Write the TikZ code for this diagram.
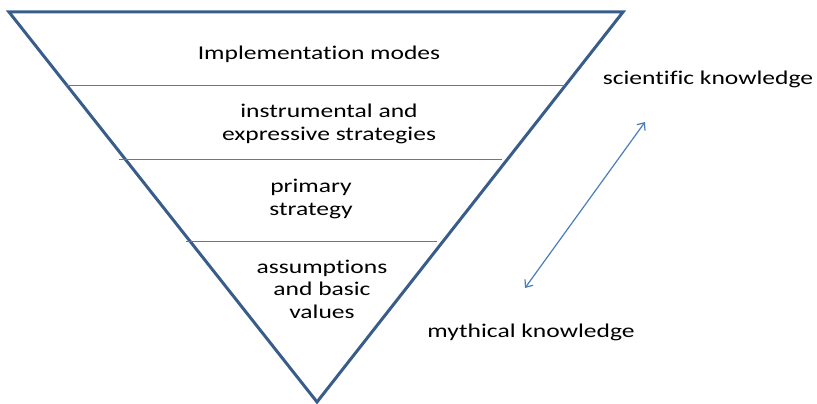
\documentclass[tikz,border=0pt]{standalone}
\usepackage{fontspec}
\setmainfont{Carlito}[Ligatures=NoCommon, FakeStretch=1.31]
\usetikzlibrary{arrows.meta}
\definecolor{tri}{HTML}{385D8A}
\definecolor{thin}{HTML}{4A7EBB}
\tikzset{
  lbl/.style={font=\fontsize{19.5}{22.5}\selectfont, align=center, inner sep=0pt, text=black},
  tribox/.style={draw=tri, line width=3pt, line join=miter},
  divider/.style={draw=thin, line width=1pt},
  dblarrow/.style={draw=thin, line width=1.2pt, {Straight Barb[length=6pt,width=10pt]}-{Straight Barb[length=6pt,width=10pt]}}
}
\begin{document}
\begin{tikzpicture}[x=1pt,y=-1pt]
\useasboundingbox (0,0) rectangle (817,404);
\coordinate (tl) at (9,12);
\coordinate (tr) at (623,12);
\coordinate (bt) at (317,402);
\draw[tribox] (tl) -- (tr) -- (bt) -- cycle;
\coordinate (l1a) at (66,86);  \coordinate (l1b) at (565,86);
\coordinate (l2a) at (119,159); \coordinate (l2b) at (502,159);
\coordinate (l3a) at (186,241); \coordinate (l3b) at (437,241);
\draw[divider] (l1a) -- (l1b);
\draw[divider] (l2a) -- (l2b);
\draw[divider] (l3a) -- (l3b);
\node[lbl] (impl) at (319,54) {Implementation modes};
\node[lbl] (instr) at (329,124) {instrumental and\\expressive strategies};
\node[lbl] (prim) at (311,199) {primary\\strategy};
\node[lbl] (assum) at (322,289) {assumptions\\and basic\\values};
\node[lbl] (sci) at (708,79) {scientific knowledge};
\node[lbl] (myth) at (531,332) {mythical knowledge};
\coordinate (ar1) at (525,288);
\coordinate (ar2) at (645,122);
\draw[dblarrow] (ar1) -- (ar2);
\end{tikzpicture}
\end{document}
